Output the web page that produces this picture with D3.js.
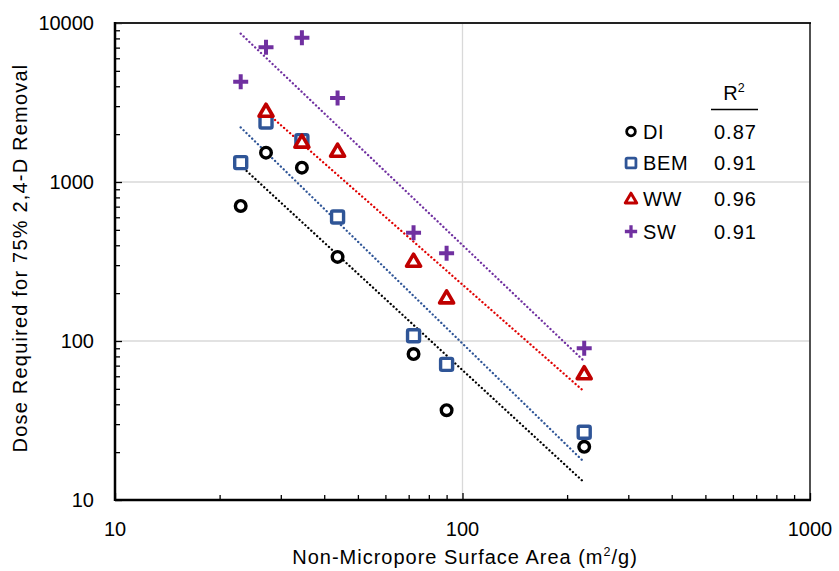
<!DOCTYPE html>
<html>
<head>
<meta charset="utf-8">
<script src="https://cdn.jsdelivr.net/npm/d3@7"></script>
<style>
  html, body { margin: 0; padding: 0; background: #fff; }
  svg { display: block; font-family: "Liberation Sans", Arial, Helvetica, sans-serif; }
</style>
</head>
<body>
<svg id="chart" width="839" height="571"></svg>
<script>
// Non-micropore surface area (m2/g) of each carbon
const surfaceArea = [23, 27.2, 34.5, 43.7, 72.3, 90, 224];

// Dose required for 75% 2,4-D removal, per water matrix
const doseDI  = [707, 1530, 1231, 338, 82.8, 36.7, 21.6];
const doseBEM = [1324, 2385, 1820, 603, 108, 71.3, 26.7];
const doseWW  = [2806, 1794, 1574, 320, 188, 62.7];
const doseSW  = [4276, 7035, 8085, 3377, 480, 356, 90];
const areaWW  = [27.2, 34.5, 43.7, 72.3, 90, 224];

const seriesNames = ["DI", "BEM", "WW", "SW"];
const rSquared = ["0.87", "0.91", "0.96", "0.91"];

const xTickValues = [10, 100, 1000];
const yTickValues = [10, 100, 1000, 10000];

const colors = { DI: "#000000", BEM: "#2f5597", WW: "#c00000", SW: "#7030a0" };
const trendColors = { DI: "#000000", BEM: "#2f5597", WW: "#e00000", SW: "#7030a0" };

const series = [
  { name: "DI",  x: surfaceArea, y: doseDI,  shape: "circle" },
  { name: "BEM", x: surfaceArea, y: doseBEM, shape: "square" },
  { name: "WW",  x: areaWW,      y: doseWW,  shape: "triangle" },
  { name: "SW",  x: surfaceArea, y: doseSW,  shape: "plus" }
];

const svg = d3.select("#chart");
const plot = { left: 115, right: 810, top: 23, bottom: 500 };
const fs = 20;

const x = d3.scaleLog().domain([10, 1000]).range([plot.left, plot.right]);
const y = d3.scaleLog().domain([10, 10000]).range([plot.bottom, plot.top]);

// gridlines at the major decades
const g = svg.append("g");
g.selectAll("line.gx").data(xTickValues).join("line")
  .attr("x1", d => x(d)).attr("x2", d => x(d))
  .attr("y1", plot.top).attr("y2", plot.bottom)
  .attr("stroke", "#d9d9d9").attr("stroke-width", 1.3);
g.selectAll("line.gy").data(yTickValues).join("line")
  .attr("y1", d => y(d)).attr("y2", d => y(d))
  .attr("x1", plot.left).attr("x2", plot.right)
  .attr("stroke", "#d9d9d9").attr("stroke-width", 1.3);

// minor + major ticks from the log scales
const xMinor = x.ticks(); // 10,20,...,1000
const yMinor = y.ticks();

const xAxis = d3.axisBottom(x).tickValues(xMinor).tickSize(-5).tickFormat("");
const yAxis = d3.axisLeft(y).tickValues(yMinor).tickSize(-5).tickFormat("");

const gx = svg.append("g").attr("transform", `translate(0,${plot.bottom})`).call(xAxis);
gx.select(".domain").remove();
gx.selectAll(".tick line").attr("stroke", "#000").attr("stroke-width", 1.3)
  .filter(d => xTickValues.includes(d)).attr("y2", -7);

const gy = svg.append("g").attr("transform", `translate(${plot.left},0)`).call(yAxis);
gy.select(".domain").remove();
gy.selectAll(".tick line").attr("stroke", "#000").attr("stroke-width", 1.3)
  .filter(d => yTickValues.includes(d)).attr("x2", 7);

// frame
svg.append("line").attr("x1", plot.left).attr("x2", plot.right + 1)
  .attr("y1", plot.top).attr("y2", plot.top).attr("stroke", "#222").attr("stroke-width", 2);
svg.append("line").attr("x1", plot.right).attr("x2", plot.right)
  .attr("y1", plot.top).attr("y2", plot.bottom).attr("stroke", "#000").attr("stroke-width", 1.3);
svg.append("line").attr("x1", plot.left).attr("x2", plot.right + 1)
  .attr("y1", plot.bottom).attr("y2", plot.bottom).attr("stroke", "#000").attr("stroke-width", 2.5);
svg.append("line").attr("x1", plot.left).attr("x2", plot.left)
  .attr("y1", plot.top - 1).attr("y2", plot.bottom + 1).attr("stroke", "#000").attr("stroke-width", 2.5);

// tick labels
svg.append("g").selectAll("text").data(xTickValues).join("text")
  .attr("x", d => x(d)).attr("y", plot.bottom + 36)
  .attr("text-anchor", "middle").attr("font-size", fs).attr("fill", "#000")
  .text(d => d);
svg.append("g").selectAll("text").data(yTickValues).join("text")
  .attr("x", plot.left - 21).attr("y", d => y(d) + 7)
  .attr("text-anchor", "end").attr("font-size", fs).attr("fill", "#000")
  .text(d => d);

// axis titles
const xt = svg.append("text").attr("x", 465).attr("y", 564)
  .attr("text-anchor", "middle").attr("font-size", fs).attr("fill", "#000")
  .attr("letter-spacing", 1);
xt.append("tspan").text("Non-Micropore Surface Area (m");
xt.append("tspan").attr("font-size", 12.5).attr("dy", -8).text("2");
xt.append("tspan").attr("dy", 8).text("/g)");

svg.append("text").attr("transform", "translate(27,258) rotate(-90)")
  .attr("text-anchor", "middle").attr("font-size", fs).attr("fill", "#000")
  .attr("letter-spacing", 1.2)
  .text("Dose Required for 75% 2,4-D Removal");

// power-law trendlines (least squares in log-log space)
function powerFit(xs, ys) {
  const lx = xs.map(Math.log10), ly = ys.map(Math.log10);
  const mx = d3.mean(lx), my = d3.mean(ly);
  const b = d3.sum(lx, (v, i) => (v - mx) * (ly[i] - my)) / d3.sum(lx, v => (v - mx) ** 2);
  const a = my - b * mx;
  return v => Math.pow(10, a + b * Math.log10(v));
}

const line = d3.line().x(d => x(d[0])).y(d => y(d[1]));
series.forEach(s => {
  const f = powerFit(s.x, s.y);
  const [lo, hi] = d3.extent(s.x);
  const pts = [[lo, f(lo)], [hi, f(hi)]];
  svg.append("path").attr("d", line(pts)).attr("fill", "none")
    .attr("stroke", trendColors[s.name]).attr("stroke-width", 2.3)
    .attr("stroke-linecap", "round").attr("stroke-dasharray", "0.1,3.9");
});

// markers
function drawMarker(sel, shape, color) {
  if (shape === "circle") {
    sel.append("circle").attr("r", 5.3).attr("fill", "#fff")
      .attr("stroke", color).attr("stroke-width", 3.4);
  } else if (shape === "square") {
    sel.append("rect").attr("x", -6).attr("y", -6).attr("width", 12).attr("height", 12)
      .attr("rx", 1.5).attr("fill", "#fff").attr("stroke", color).attr("stroke-width", 3.4);
  } else if (shape === "triangle") {
    sel.append("path").attr("d", "M0,-6.5 L7,5.5 L-7,5.5 Z").attr("fill", "#fff")
      .attr("stroke", color).attr("stroke-width", 3.6).attr("stroke-linejoin", "round");
  } else {
    sel.append("path").attr("d", "M-7.5,0 L7.5,0 M0,-7.5 L0,7.5")
      .attr("stroke", color).attr("stroke-width", 4);
  }
}

series.forEach(s => {
  const pts = s.x.map((v, i) => [v, s.y[i]]);
  svg.append("g").selectAll("g").data(pts).join("g")
    .attr("transform", d => `translate(${x(d[0])},${y(d[1])})`)
    .each(function () { drawMarker(d3.select(this), s.shape, colors[s.name]); });
});

// legend with R2 column
const legend = svg.append("g");
const rh = legend.append("text").attr("x", 734).attr("y", 100)
  .attr("text-anchor", "middle").attr("font-size", fs).attr("fill", "#000");
rh.append("tspan").text("R");
rh.append("tspan").attr("font-size", 12.5).attr("dy", -8).text("2");
legend.append("line").attr("x1", 711).attr("x2", 758).attr("y1", 109.5).attr("y2", 109.5)
  .attr("stroke", "#000").attr("stroke-width", 1.3);

const legendY = [131.5, 163, 198.5, 231.5];
series.forEach((s, i) => {
  const row = legend.append("g").attr("transform", `translate(631,${legendY[i]})`);
  const m = row.append("g").attr("transform", "scale(0.82)");
  drawMarker(m, s.shape, colors[s.name]);
  row.append("text").attr("x", 12).attr("y", 7).attr("font-size", fs)
    .attr("fill", "#000").attr("letter-spacing", 0.6).text(seriesNames[i]);
  row.append("text").attr("x", 83).attr("y", 7).attr("font-size", fs)
    .attr("fill", "#000").attr("letter-spacing", 1).text(rSquared[i]);
});
</script>
</body>
</html>
